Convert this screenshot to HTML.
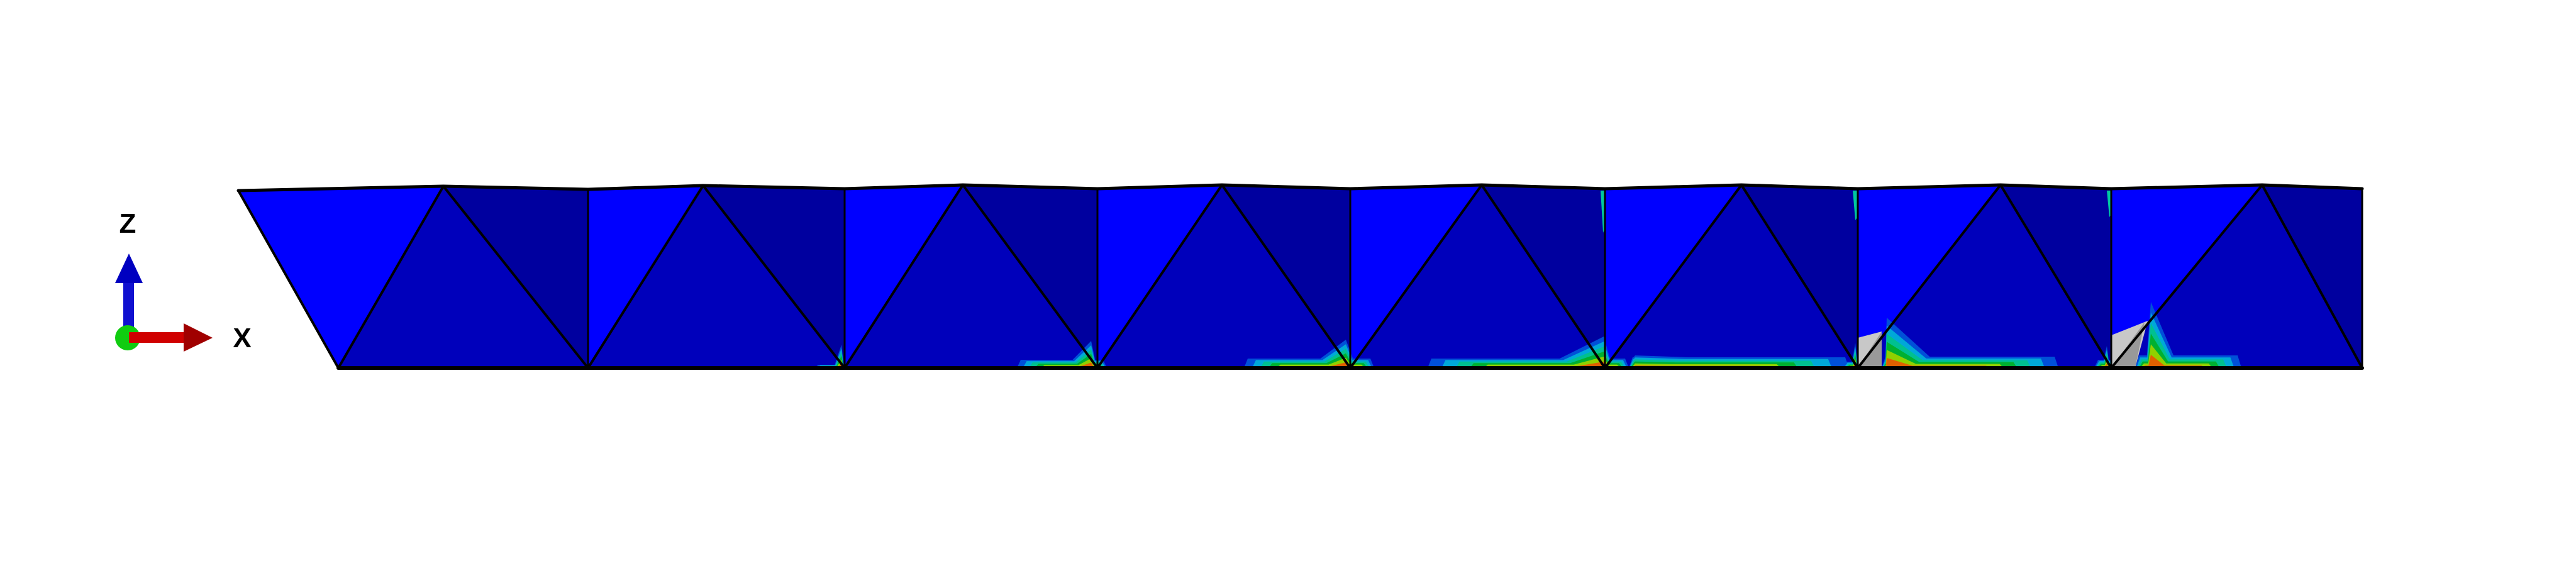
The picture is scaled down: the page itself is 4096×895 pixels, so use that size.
<!DOCTYPE html>
<html><head><meta charset="utf-8"><style>
html,body{margin:0;padding:0;background:#fff;}
svg{display:block;}
text{font-family:"Liberation Sans",sans-serif;font-weight:bold;}
</style></head><body>
<svg id="fig" width="4096" height="895" viewBox="0 0 4096 895" xmlns="http://www.w3.org/2000/svg">
<g id="truss"></g>
<g id="blobs"></g>
<g id="lines"></g>
<g>
  <text x="203" y="370" font-size="44" font-weight="bold" text-anchor="middle">Z</text>
  <rect x="196" y="448" width="17" height="90" fill="#1010d0"/>
  <polygon points="183,450 227,450 205,403" fill="#0000c0"/>
  <circle cx="203" cy="537" r="20" fill="#10cc10"/>
  <rect x="205" y="528" width="90" height="17" fill="#d00000"/>
  <polygon points="292,514 292,559 338,537" fill="#a00000"/>
  <text x="385" y="552" font-size="44" font-weight="bold" text-anchor="middle">X</text>
</g>
</svg>
<script>
const NS="http://www.w3.org/2000/svg";
// truss nodes
const bottomX=[538,935,1343,1745,2147,2552,2954,3357,3756];
const apexX=[705,1118,1531,1943,2356,2769,3181,3597];
const apexY=[296,295,294,294,294,294,294,294];
const vertTopY=[303,301,300,300,300,300,300,300,300];
const leftTop=[379,303];
const BY=585;
// hotspot blobs
const blobL=[1295,1617,1978,2270,2590,2930,2992,3330,3395];
const blobR=[1352,1760,2185,2590,2940,2962,3273,3362,3564];
const blobPX=[1338,1735,2140,2550,2600,2950,3000,3350,3420];
const blobPY=[548,542,540,535,565,545,505,550,480];
const blobBT=[580,572,570,570,568,575,567,572,565];

const truss=document.getElementById('truss'), lines=document.getElementById('lines'), blobs=document.getElementById('blobs');
function poly(g,pts,fill,name){
  const p=document.createElementNS(NS,'polygon');
  p.setAttribute('points',pts.map(a=>a.join(',')).join(' '));
  p.setAttribute('fill',fill);
  
  
  g.appendChild(p);return p;
}
function line(a,b,w,name){
  const l=document.createElementNS(NS,'line');
  l.setAttribute('x1',a[0]);l.setAttribute('y1',a[1]);l.setAttribute('x2',b[0]);l.setAttribute('y2',b[1]);
  l.setAttribute('stroke','#000');l.setAttribute('stroke-width',w);l.setAttribute('stroke-linecap','round');
  
  
  lines.appendChild(l);
}
for(let i=0;i<apexX.length;i++){
  const tl = i===0? leftTop : [bottomX[i],vertTopY[i]];
  const ap=[apexX[i],apexY[i]];
  const b0=[bottomX[i],BY], b1=[bottomX[i+1],BY], tr=[bottomX[i+1],vertTopY[i+1]];
  poly(truss,[tl,ap,b0],'#0000ff','panel-light-'+i);
  poly(truss,[ap,b0,b1],'#0000bb','panel-mid-'+i);
  poly(truss,[ap,tr,b1],'#00009f','panel-dark-'+i);
  line(tl,ap,5,'top-chord');line(ap,tr,5,'top-chord');
  line(ap,b0,4,'diagonal');line(ap,b1,4,'diagonal');
  line(b0,b1,6,'bottom-chord');
  if(i===0) line(tl,b0,4,'end-post');
  line(tr,b1,3,'vertical');
}
const layerCols=['#0050d8','#00a8d8','#00c090','#00b030','#90d000','#e06000'];
for(let k=0;k<blobL.length;k++){
  const L=blobL[k],R=blobR[k],PX=blobPX[k],PY=blobPY[k],BT=blobBT[k];
  layerCols.forEach((c,j)=>{
    const f=1-j*0.16;
    const sy=y=>BY-(BY-y)*f;
    const sx=x=>PX+(x-PX)*(1-j*0.08);
    const pts=[[sx(L),BY],[sx(L)+6,sy(BT)],[sx(PX-(PX-L)*0.25),sy(BT)],[PX,sy(PY)],[sx(PX+(R-PX)*0.25),sy(BT)],[sx(R)-6,sy(BT)],[sx(R),BY]];
    poly(blobs,pts,c,'hotspot-'+k+'-layer-'+j);
  });
}
// grey yielded zones
poly(blobs,[[2954,BY],[2954,537],[2992,527],[2992,BY]],'#c8c8c8','yield-zone-1');
poly(blobs,[[2954,BY],[2992,527],[2992,BY]],'#999999','yield-zone-1b');
poly(blobs,[[3357,BY],[3357,533],[3415,510],[3395,BY]],'#c8c8c8','yield-zone-2');
poly(blobs,[[3357,BY],[3410,512],[3395,BY]],'#999999','yield-zone-2b');
// small top streaks
poly(blobs,[[2545,303],[2553,303],[2553,360],[2549,370]],'#00c8a0','top-streak-1');
poly(blobs,[[2946,303],[2954,303],[2954,345],[2950,350]],'#00c8a0','top-streak-2');
poly(blobs,[[3350,303],[3358,303],[3358,340],[3354,345]],'#00c8a0','top-streak-3');
</script>
</body></html>
